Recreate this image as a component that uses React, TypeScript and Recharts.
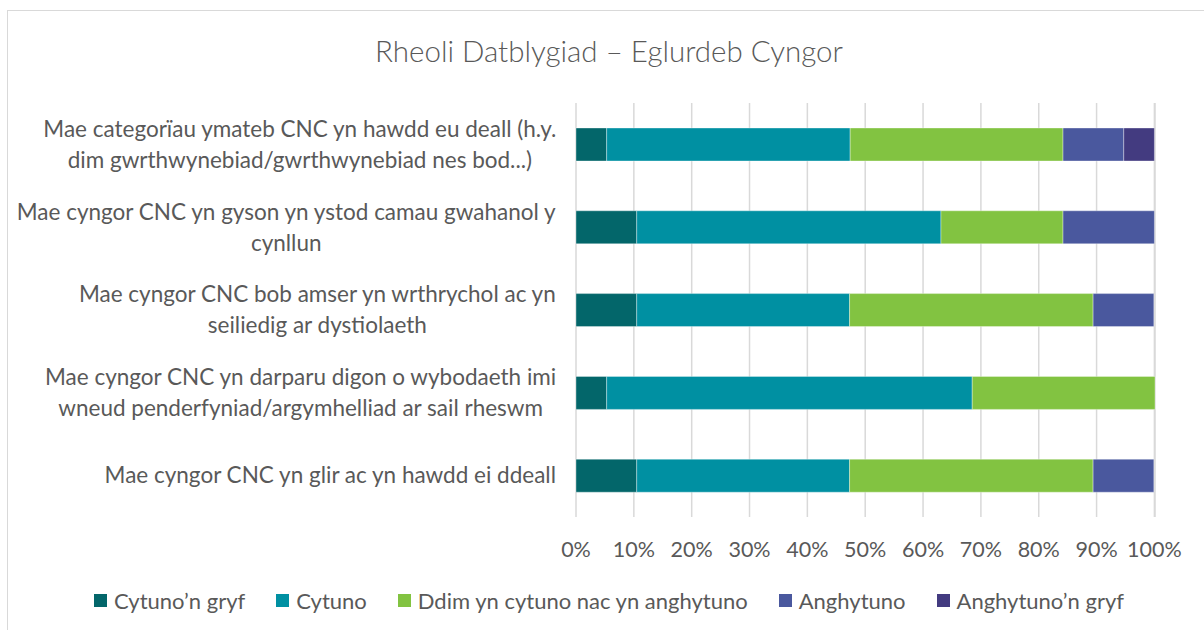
import React from 'react';
import { BarChart, Bar, XAxis, YAxis, CartesianGrid } from 'recharts';

const statements = [
  ['Mae categorïau ymateb CNC yn hawdd eu deall (h.y.', 'dim gwrthwynebiad/gwrthwynebiad nes bod...)'],
  ['Mae cyngor CNC yn gyson yn ystod camau gwahanol y', 'cynllun'],
  ['Mae cyngor CNC bob amser yn wrthrychol ac yn', 'seiliedig ar dystiolaeth'],
  ['Mae cyngor CNC yn darparu digon o wybodaeth imi', 'wneud penderfyniad/argymhelliad ar sail rheswm'],
  ['Mae cyngor CNC yn glir ac yn hawdd ei ddeall'],
];

const seriesNames = ['Cytuno’n gryf', 'Cytuno', 'Ddim yn cytuno nac yn anghytuno', 'Anghytuno', 'Anghytuno’n gryf'];
const seriesColors = ['#03666a', '#0090a2', '#82c341', '#4a589e', '#433b80'];

// percent of respondents, per statement (top to bottom)
const cytunoGryf = [5.3, 10.5, 10.5, 5.3, 10.5];
const cytuno = [42.1, 52.6, 36.8, 63.2, 36.8];
const ddim = [36.8, 21.1, 42.1, 31.6, 42.1];
const anghytuno = [10.5, 15.8, 10.5, 0, 10.5];
const anghytunoGryf = [5.3, 0, 0, 0, 0];

const xTicks = [0, 10, 20, 30, 40, 50, 60, 70, 80, 90, 100];

const FONT = 'Lato, "Open Sans", sans-serif';
const GREY = '#595959';

const data = statements.map((lines, i) => ({
  name: lines.join(' '),
  s0: cytunoGryf[i],
  s1: cytuno[i],
  s2: ddim[i],
  s3: anghytuno[i],
  s4: anghytunoGryf[i],
}));

let canvas: HTMLCanvasElement | null = null;
function textWidth(s: string, font: string) {
  if (!canvas) canvas = document.createElement('canvas');
  const ctx = canvas.getContext('2d')!;
  ctx.font = font;
  return ctx.measureText(s).width;
}

const LABEL_SIZE = 22.5;
const LINE_H = 31;

function CategoryTick(props: any) {
  const { x, y, index } = props;
  const lines = statements[index] || [];
  const w = Math.max(...lines.map(l => textWidth(l, `${LABEL_SIZE}px Lato`)));
  const right = x - 11;
  const cx = right - w / 2;
  const y0 = y - ((lines.length - 1) * LINE_H) / 2;
  return (
    <text textAnchor="middle" fill={GREY} fontSize={LABEL_SIZE} fontFamily={FONT}>
      {lines.map((l, k) => (
        <tspan key={k} x={cx} y={y0 + k * LINE_H} dy="0.35em">{l}</tspan>
      ))}
    </text>
  );
}

function ChartLegend() {
  return (
    <div style={{ position: 'absolute', left: 7, top: 587, width: 1204, display: 'flex', justifyContent: 'center', gap: 31, fontFamily: FONT, fontSize: 22, color: GREY }}>
      {seriesNames.map((n, i) => (
        <div key={n} style={{ display: 'flex', alignItems: 'center' }}>
          <span style={{ width: 13, height: 13, background: seriesColors[i], marginRight: 7, display: 'inline-block' }} />
          <span>{n}</span>
        </div>
      ))}
    </div>
  );
}

export default function App() {
  return (
    <div style={{ position: 'absolute', left: 0, top: 0, width: 1204, height: 630, background: '#fff', overflow: 'hidden' }}>
      <div style={{ position: 'absolute', left: 7, top: 10, width: 1220, height: 640, border: '1px solid #d9d9d9' }} />
      <div style={{ position: 'absolute', left: 7, top: 33, width: 1204, textAlign: 'center', fontFamily: FONT, fontWeight: 300, fontSize: 29.5, color: GREY }}>
        Rheoli Datblygiad – Eglurdeb Cyngor
      </div>
      <div style={{ position: 'absolute', left: 0, top: 0 }}>
        <BarChart width={1204} height={630} data={data} layout="vertical" margin={{ top: 103, right: 49, bottom: 83, left: 0 }} barSize={33}>
          <CartesianGrid horizontal={false} stroke="#d9d9d9" strokeWidth={1.5} />
          <XAxis type="number" domain={[0, 100]} ticks={xTicks} interval={0} axisLine={false} tickLine={false}
            tickFormatter={v => `${v}%`} tick={{ fill: GREY, fontSize: 21.5, fontFamily: FONT }} tickMargin={19} />
          <YAxis type="category" dataKey="name" width={576} axisLine={false} tickLine={false} tick={<CategoryTick />} interval={0} />
          {seriesNames.map((n, i) => (
            <Bar key={n} dataKey={`s${i}`} name={n} stackId="a" fill={seriesColors[i]} stroke="rgba(255,255,255,0.35)" strokeWidth={1} isAnimationActive={false} />
          ))}
        </BarChart>
      </div>
      <ChartLegend />
    </div>
  );
}
